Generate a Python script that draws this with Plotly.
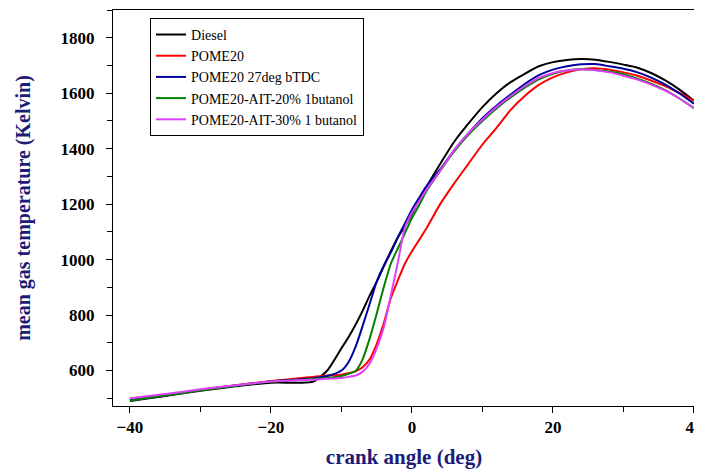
"""Mean gas temperature vs crank angle."""

import plotly.graph_objects as go

crank_angle = [-40, -35, -30, -25, -20, -16, -14, -12, -10, -9, -8, -7, -6, -5, -4, -3, -2, -1, 0, 1,
               2, 4, 6, 8, 10, 12, 14, 16, 18, 20, 22, 24, 26, 28, 30, 32, 34, 36, 38, 40]

diesel = [490, 508, 527, 543, 556, 556, 560, 600, 680, 720, 765, 815, 870, 920, 975, 1030, 1080, 1120, 1165, 1215,
          1260, 1345, 1425, 1490, 1550, 1600, 1640, 1670, 1697, 1712, 1720, 1723, 1721, 1713, 1703, 1692, 1672, 1645, 1612, 1573]
pome20 = [493, 512, 530, 547, 562, 572, 577, 582, 585, 590, 597, 612, 640, 695, 770, 860, 925, 985, 1030, 1070,
          1110, 1200, 1275, 1345, 1415, 1475, 1540, 1590, 1630, 1657, 1675, 1686, 1690, 1685, 1675, 1663, 1645, 1625, 1600, 1572]
pome20_27deg = [493, 510, 530, 546, 560, 568, 572, 580, 600, 630, 685, 760, 840, 920, 978, 1025, 1080, 1130, 1180, 1222,
                1262, 1325, 1395, 1455, 1510, 1555, 1595, 1633, 1665, 1685, 1697, 1704, 1705, 1697, 1688, 1675, 1655, 1630, 1598, 1562]
pome20_ait20 = [492, 510, 528, 545, 560, 566, 570, 573, 580, 588, 598, 640, 715, 805, 900, 985, 1040, 1095, 1150, 1195,
                1245, 1320, 1390, 1450, 1500, 1545, 1585, 1620, 1650, 1670, 1682, 1686, 1684, 1678, 1668, 1652, 1633, 1610, 1580, 1547]
pome20_ait30 = [500, 515, 532, 547, 560, 565, 567, 570, 573, 577, 582, 595, 625, 680, 755, 870, 990, 1115, 1170, 1210,
                1250, 1320, 1395, 1455, 1505, 1550, 1590, 1625, 1655, 1673, 1682, 1685, 1683, 1675, 1663, 1649, 1630, 1608, 1580, 1545]

series = [
    ("Diesel", diesel, "#000000"),
    ("POME20", pome20, "#ff0000"),
    ("POME20 27deg bTDC", pome20_27deg, "#0000a0"),
    ("POME20-AIT-20% 1butanol", pome20_ait20, "#008000"),
    ("POME20-AIT-30% 1 butanol", pome20_ait30, "#e040fb"),
]

fig = go.Figure()
for name, values, color in series:
    fig.add_trace(
        go.Scatter(
            x=crank_angle,
            y=values,
            mode="lines",
            name=name,
            line=dict(color=color, width=2, shape="spline", smoothing=0.6),
        )
    )

serif = "Liberation Serif, Times New Roman, serif"
navy = "#1c1c78"

# the page body adds an 8px offset, so the figure is sized to fit the window
fig.update_layout(
    width=694,
    height=462,
    margin=dict(l=105, r=7, t=2, b=64),
    plot_bgcolor="white",
    paper_bgcolor="white",
    font=dict(family=serif, color="black"),
    legend=dict(
        x=0.0636,
        y=0.98,
        xanchor="left",
        yanchor="top",
        bordercolor="black",
        borderwidth=1,
        bgcolor="white",
        font=dict(family=serif, size=14, color="black"),
        tracegroupgap=0,
        itemwidth=30,
    ),
)

axis_style = dict(
    ticks="outside",
    ticklen=6,
    tickcolor="black",
    showgrid=False,
    zeroline=False,
    showline=True,
    mirror=True,
    linecolor="black",
    linewidth=1,
    automargin=False,
    ticklabeloverflow="allow",
    tickfont=dict(family=serif, size=17, color="black", weight="bold"),
)

fig.update_xaxes(
    range=[-42.4, 40.15],
    tick0=-40,
    dtick=20,
    minor=dict(dtick=10, ticks="outside", ticklen=5, tickcolor="black"),
    title=dict(text="crank angle (deg)", font=dict(family=serif, size=21, color=navy, weight="bold"), standoff=12),
    **axis_style,
)
fig.update_yaxes(
    range=[472, 1900],
    tick0=0,
    dtick=200,
    ticklabelstandoff=8,
    minor=dict(dtick=100, ticks="outside", ticklen=5, tickcolor="black"),
    title=dict(text="mean gas temperature (Kelvin)", font=dict(family=serif, size=20, color=navy, weight="bold"), standoff=24),
    **axis_style,
)

fig.write_html("out.html")
